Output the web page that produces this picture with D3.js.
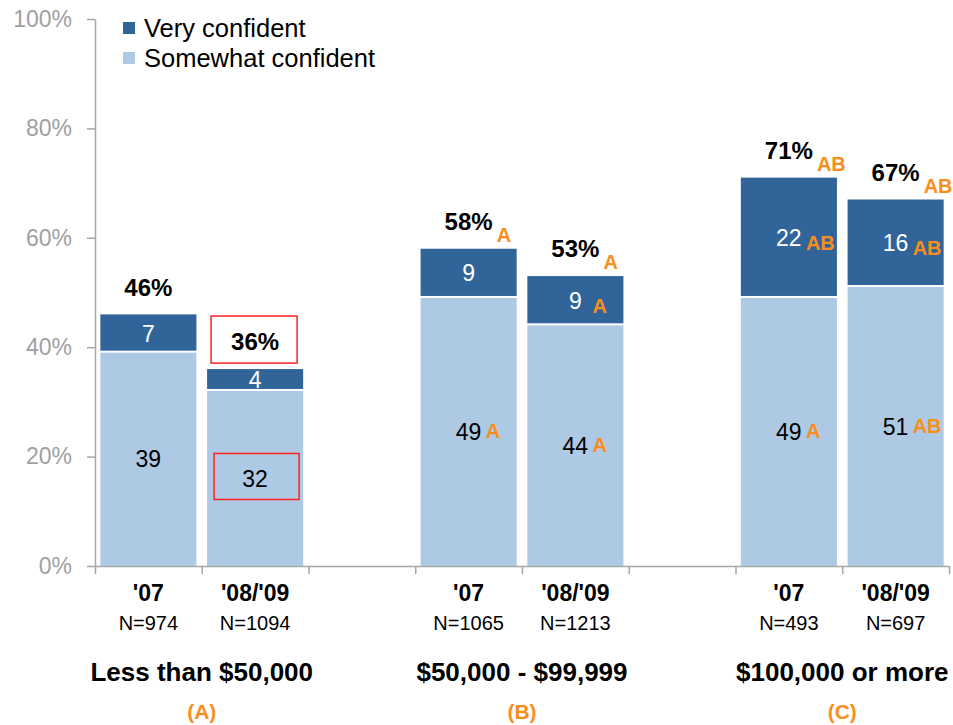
<!DOCTYPE html>
<html>
<head>
<meta charset="utf-8">
<script src="https://cdn.jsdelivr.net/npm/d3@7/dist/d3.min.js"></script>
<style>
  body { margin: 0; background: #fff; }
  svg { display: block; font-family: "Liberation Sans", Arial, sans-serif; }
</style>
</head>
<body>
<svg id="chart" width="953" height="725"></svg>
<script>
// data
var groupNames = ["Less than $50,000", "$50,000 - $99,999", "$100,000 or more"];
var groupCodes = ["(A)", "(B)", "(C)"];
var years = ["'07", "'08/'09"];
var sampleSizes = ["N=974", "N=1094", "N=1065", "N=1213", "N=493", "N=697"];
var somewhatConfident = [39, 32, 49, 44, 49, 51];
var veryConfident = [7, 4, 9, 9, 22, 16];
var totals = [46, 36, 58, 53, 71, 67];
var sigTotal = ["", "", "A", "A", "AB", "AB"];
var sigVery = ["", "", "", "A", "AB", "AB"];
var sigSomewhat = ["", "", "A", "A", "A", "AB"];
var boxed = [false, true, false, false, false, false];
var yTicks = [0, 20, 40, 60, 80, 100];
var legendLabels = ["Very confident", "Somewhat confident"];

var cDark = "#31659a", cLight = "#aec9e4", cOrange = "#f98e1d", cGray = "#a6a6a6";

var svg = d3.select("#chart");

// 8 slots: two bars per group with an empty slot between groups
var slots = [];
groupNames.forEach(function (g, gi) {
	years.forEach(function (yr, yi) { slots.push(gi + "|" + yi); });
	if (gi < groupNames.length - 1) slots.push("gap" + gi);
});

var x = d3.scaleBand().domain(slots).range([95, 949]).paddingInner(0.1).paddingOuter(0.05);
var xEdge = d3.scaleLinear().domain([0, slots.length]).range([95, 949]);
var y = d3.scaleLinear().domain([0, 100]).range([566, 19]);

var bars = [];
groupNames.forEach(function (g, gi) {
	years.forEach(function (yr, yi) {
		var i = gi * 2 + yi;
		bars.push({
			key: gi + "|" + yi, year: yr, n: sampleSizes[i],
			some: somewhatConfident[i], very: veryConfident[i], total: totals[i],
			sigT: sigTotal[i], sigV: sigVery[i], sigS: sigSomewhat[i], boxed: boxed[i]
		});
	});
});

// axes
var yAxis = svg.append("g").attr("transform", "translate(95,0)")
	.call(d3.axisLeft(y).tickValues(yTicks).tickFormat(function (d) { return d + "%"; })
		.tickSize(8).tickSizeOuter(0).tickPadding(15));
yAxis.select(".domain").attr("stroke", cGray).attr("stroke-width", 1.5);
yAxis.selectAll(".tick line").attr("stroke", cGray).attr("stroke-width", 1.5);
yAxis.selectAll(".tick text").attr("fill", "#a0a0a0").style("font-size", "23px")
	.style("font-family", "Liberation Sans, Arial, sans-serif");

var xAxis = svg.append("g").attr("transform", "translate(0,566)")
	.call(d3.axisBottom(xEdge).tickValues(d3.range(slots.length + 1)).tickFormat("")
		.tickSize(8).tickSizeOuter(0));
xAxis.select(".domain").attr("stroke", cGray).attr("stroke-width", 1.5);
xAxis.selectAll(".tick line").attr("stroke", cGray).attr("stroke-width", 1.5);

// bars
var bar = svg.selectAll(".bar").data(bars).enter().append("g").attr("class", "bar");

bar.append("rect")
	.attr("x", function (d) { return x(d.key); })
	.attr("width", x.bandwidth())
	.attr("y", function (d) { return y(d.some); })
	.attr("height", function (d) { return y(0) - y(d.some); })
	.attr("fill", cLight);

bar.append("rect")
	.attr("x", function (d) { return x(d.key); })
	.attr("width", x.bandwidth())
	.attr("y", function (d) { return y(d.some + d.very); })
	.attr("height", function (d) { return y(d.some) - y(d.some + d.very) - 2; })
	.attr("fill", cDark);

function cx(d) { return x(d.key) + x.bandwidth() / 2; }

// segment values
bar.append("text")
	.attr("x", cx)
	.attr("y", function (d) { return (y(d.some) + y(d.some + d.very)) / 2; })
	.attr("dy", "0.35em").attr("text-anchor", "middle")
	.attr("fill", "#fff").style("font-size", "23px")
	.text(function (d) { return d.very; });

bar.append("text")
	.attr("x", cx)
	.attr("y", function (d) { return (y(0) + y(d.some)) / 2; })
	.attr("dy", "0.35em").attr("text-anchor", "middle")
	.attr("fill", "#000").style("font-size", "23px")
	.text(function (d) { return d.some; });

bar.append("text")
	.attr("x", function (d) { return cx(d) + 17; })
	.attr("y", function (d) { return (y(d.some) + y(d.some + d.very)) / 2 + 5; })
	.attr("dy", "0.35em").attr("fill", cOrange)
	.style("font-size", "20px").style("font-weight", "bold")
	.text(function (d) { return d.sigV; });

bar.append("text")
	.attr("x", function (d) { return cx(d) + 17; })
	.attr("y", function (d) { return (y(0) + y(d.some)) / 2 - 1; })
	.attr("dy", "0.35em").attr("fill", cOrange)
	.style("font-size", "20px").style("font-weight", "bold")
	.text(function (d) { return d.sigS; });

// totals
bar.append("text")
	.attr("x", cx)
	.attr("y", function (d) { return y(d.total) - 27; })
	.attr("dy", "0.35em").attr("text-anchor", "middle")
	.style("font-size", "24px").style("font-weight", "bold")
	.text(function (d) { return d.total + "%"; });

bar.append("text")
	.attr("x", function (d) { return cx(d) + 28; })
	.attr("y", function (d) { return y(d.total) - 14; })
	.attr("dy", "0.35em").attr("fill", cOrange)
	.style("font-size", "20px").style("font-weight", "bold")
	.text(function (d) { return d.sigT; });

// red highlight boxes
var hl = bar.filter(function (d) { return d.boxed; });
hl.append("rect")
	.attr("x", function (d) { return x(d.key) + 4; })
	.attr("y", function (d) { return y(d.total) - 53; })
	.attr("width", 86).attr("height", 47)
	.attr("fill", "none").attr("stroke", "#ff2020").attr("stroke-width", 1.5);
hl.append("rect")
	.attr("x", function (d) { return x(d.key) + 7; })
	.attr("y", function (d) { return (y(0) + y(d.some)) / 2 - 25; })
	.attr("width", 85).attr("height", 46)
	.attr("fill", "none").attr("stroke", "#ff2020").attr("stroke-width", 1.5);

// category labels
bar.append("text")
	.attr("x", cx).attr("y", 601).attr("text-anchor", "middle")
	.style("font-size", "23px").style("font-weight", "bold")
	.text(function (d) { return d.year; });
bar.append("text")
	.attr("x", cx).attr("y", 630).attr("text-anchor", "middle")
	.style("font-size", "20px")
	.text(function (d) { return d.n; });

var groupLabel = svg.selectAll(".group").data(groupNames).enter().append("g").attr("class", "group");
groupLabel.append("text")
	.attr("x", function (d, i) { return x(i + "|1") - (x.step() - x.bandwidth()) / 2; })
	.attr("y", 681).attr("text-anchor", "middle")
	.style("font-size", "26px").style("font-weight", "bold")
	.text(function (d) { return d; });
groupLabel.append("text")
	.attr("x", function (d, i) { return x(i + "|1") - (x.step() - x.bandwidth()) / 2; })
	.attr("y", 719).attr("text-anchor", "middle")
	.attr("fill", cOrange).style("font-size", "21px").style("font-weight", "bold")
	.text(function (d, i) { return groupCodes[i]; });

// legend
var legend = svg.selectAll(".legend").data(legendLabels).enter().append("g")
	.attr("class", "legend")
	.attr("transform", function (d, i) { return "translate(123," + (22 + i * 30) + ")"; });
legend.append("rect").attr("width", 12).attr("height", 12)
	.attr("fill", function (d, i) { return i === 0 ? cDark : cLight; });
legend.append("text").attr("x", 21).attr("y", 6).attr("dy", "0.35em")
	.style("font-size", "25.5px")
	.text(function (d) { return d; });
</script>
</body>
</html>
